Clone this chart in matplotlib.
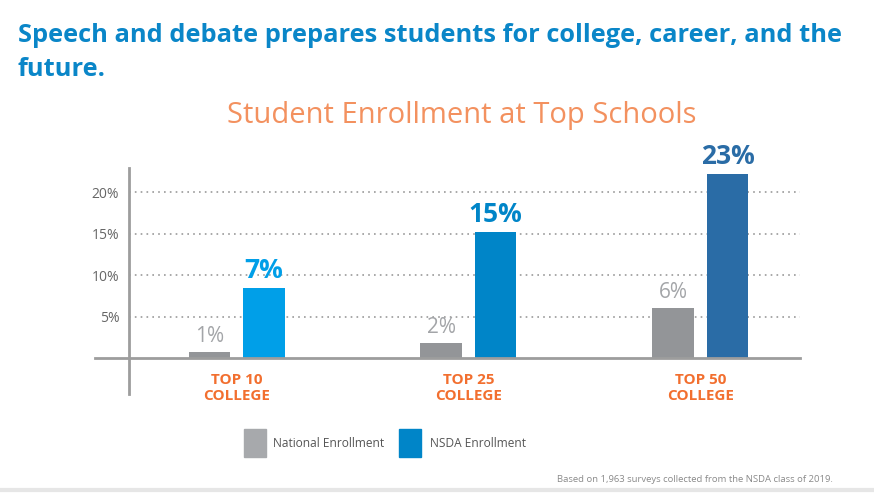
import matplotlib.pyplot as plt
from matplotlib.patches import Rectangle

# data
groups = ["TOP 10\nCOLLEGE", "TOP 25\nCOLLEGE", "TOP 50\nCOLLEGE"]
national = [0.75, 1.8, 6.0]
nsda = [8.4, 15.2, 22.2]
national_labels = ["1%", "2%", "6%"]
nsda_labels = ["7%", "15%", "23%"]
yticks = [5, 10, 15, 20]
ytick_labels = ["5%", "10%", "15%", "20%"]

gray = "#939598"
nsda_colors = ["#009fe8", "#0085c8", "#2a6ca6"]
orange = "#f26f2f"

plt.rcParams['font.family'] = ['Open Sans', 'DejaVu Sans']

W, H = 874, 494
fig = plt.figure(figsize=(W / 100, H / 100), dpi=100)
fig.patch.set_facecolor("white")

# axes placed in pixel terms: x 129..800, y 168..358
ax = fig.add_axes([129 / W, (H - 358) / H, (800 - 129) / W, (358 - 168) / H])
ax.set_xlim(-0.464, 2.43)
ax.set_ylim(0, 22.9)

x = range(len(groups))
bw = 0.18
off = 0.117
ax.bar([i - off for i in x], national, width=bw, color=gray, zorder=3)
ax.bar([i + off for i in x], nsda, width=bw, color=nsda_colors, zorder=3)

for i in x:
    ax.text(i - off, national[i] + 0.6, national_labels[i], ha="center", va="bottom",
            fontsize=15, color="#a3a5a8")
    ax.text(i + off, nsda[i] + 0.5, nsda_labels[i], ha="center", va="bottom",
            fontsize=19, fontweight="bold", color=nsda_colors[i])
    ax.text(i, -1.8, groups[i], ha="center", va="top", fontsize=11,
            fontweight="bold", color=orange, linespacing=1.2)

ax.set_yticks(yticks)
ax.set_yticklabels(ytick_labels)
ax.set_xticks([])
ax.tick_params(axis="y", length=0, pad=7, labelsize=10, labelcolor="#666666")
ax.yaxis.grid(True, linestyle=(0, (1, 2.5)), color="#9a9a9a", linewidth=1.2)
ax.set_axisbelow(True)
for s in ax.spines.values():
    s.set_visible(False)

# baseline and vertical axis line, running past the plot area
ax.plot([-0.61, 2.43], [0, 0], color="#9d9d9d", linewidth=2, clip_on=False, zorder=4)
ax.plot([-0.464, -0.464], [-4.3, 22.9], color="#9d9d9d", linewidth=2, clip_on=False, zorder=4)

# headings
fig.text(18 / W, 1 - 35 / H, "Speech and debate prepares students for college, career, and the",
         fontsize=18.3, fontweight="bold", color="#0a86c8", va="center", ha="left")
fig.text(18 / W, 1 - 70 / H, "future.", fontsize=18.3, fontweight="bold",
         color="#0a86c8", va="center", ha="left")
fig.text(462 / W, 1 - 115 / H, "Student Enrollment at Top Schools", fontsize=21,
         color="#f3915f", va="center", ha="center")

# legend drawn by hand
fig.add_artist(Rectangle((244 / W, 1 - 457 / H), 22 / W, 28 / H, color="#a7a9ac",
                         transform=fig.transFigure))
fig.text(273 / W, 1 - 443 / H, "National Enrollment", fontsize=8.6, color="#555555",
         va="center", ha="left")
fig.add_artist(Rectangle((399 / W, 1 - 457 / H), 22 / W, 28 / H, color="#0085c8",
                         transform=fig.transFigure))
fig.text(430 / W, 1 - 443 / H, "NSDA Enrollment", fontsize=8.6, color="#555555",
         va="center", ha="left")

fig.text(557 / W, 1 - 479 / H, "Based on 1,963 surveys collected from the NSDA class of 2019.",
         fontsize=6.8, color="#8a8a8a", va="center", ha="left")
fig.add_artist(plt.Line2D([0, 1], [1 - 490 / H, 1 - 490 / H], color="#e6e6e6",
                          linewidth=3, transform=fig.transFigure))

plt.savefig("out.png", dpi=100)
plt.close()
